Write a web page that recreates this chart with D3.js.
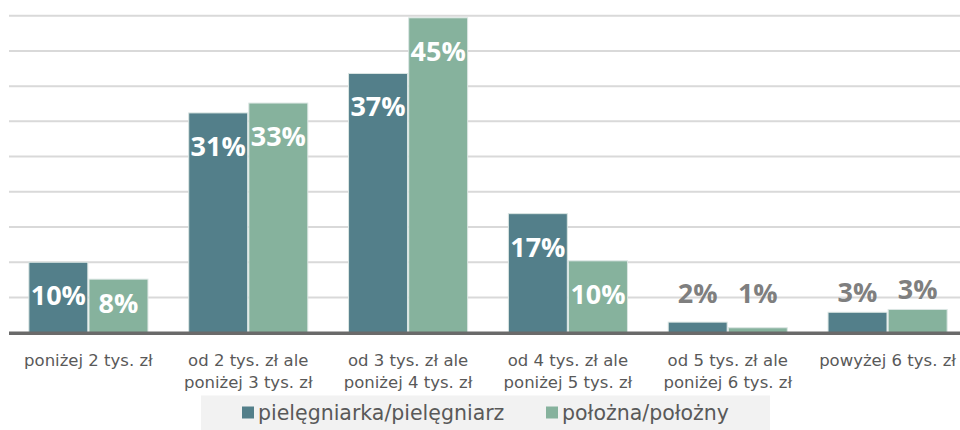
<!DOCTYPE html>
<html>
<head>
<meta charset="utf-8">
<script src="https://cdn.jsdelivr.net/npm/d3@7"></script>
<style>
  html, body { margin: 0; padding: 0; background: #fff; }
  svg { display: block; }
</style>
</head>
<body>
<svg id="chart" width="960" height="430"></svg>
<script>
const categories = [
  ["poniżej 2 tys. zł"],
  ["od 2 tys. zł ale", "poniżej 3 tys. zł"],
  ["od 3 tys. zł ale", "poniżej 4 tys. zł"],
  ["od 4 tys. zł ale", "poniżej 5 tys. zł"],
  ["od 5 tys. zł ale", "poniżej 6 tys. zł"],
  ["powyżej 6 tys. zł"]
];
const seriesNames = ["pielęgniarka/pielęgniarz", "położna/położny"];
const nurseValues = [10.0, 31.2, 36.8, 16.9, 1.5, 2.9];
const midwifeValues = [7.6, 32.6, 44.7, 10.2, 0.7, 3.3];
const nurseLabels = ["10%", "31%", "37%", "17%", "2%", "3%"];
const midwifeLabels = ["8%", "33%", "45%", "10%", "1%", "3%"];
const gridTicks = [5, 10, 15, 20, 25, 30, 35, 40, 45];

const colors = ["#537f8a", "#86b29d"];
const svg = d3.select("#chart");

const x0 = d3.scaleBand()
  .domain(d3.range(categories.length))
  .range([8.5, 967.5])
  .paddingInner(0.255)
  .paddingOuter(0.1275);
const x1 = d3.scaleBand()
  .domain([0, 1])
  .range([0, x0.bandwidth()])
  .paddingInner(0.02);
const y = d3.scaleLinear().domain([0, 45]).range([332.7, 15.7]);

// gridlines
svg.append("g").selectAll("line").data(gridTicks).join("line")
  .attr("x1", 9).attr("x2", 960)
  .attr("y1", d => y(d)).attr("y2", d => y(d))
  .attr("stroke", "#d9d9d9").attr("stroke-width", 2);

const data = categories.map((c, i) => ({
  i,
  vals: [
    { s: 0, v: nurseValues[i], lab: nurseLabels[i] },
    { s: 1, v: midwifeValues[i], lab: midwifeLabels[i] }
  ]
}));

const groups = svg.append("g").selectAll("g").data(data).join("g")
  .attr("transform", d => `translate(${x0(d.i)},0)`);

groups.selectAll("rect").data(d => d.vals).join("rect")
  .attr("x", d => x1(d.s))
  .attr("width", x1.bandwidth())
  .attr("y", d => y(d.v))
  .attr("height", d => y(0) - y(d.v))
  .attr("fill", d => colors[d.s])
  .attr("stroke", "#dbe6e3")
  .attr("stroke-width", 1);

// axis baseline
svg.append("line")
  .attr("x1", 9).attr("x2", 960)
  .attr("y1", y(0) + 0.6).attr("y2", y(0) + 0.6)
  .attr("stroke", "#6a6a6a").attr("stroke-width", 3.5);

// data labels
groups.selectAll("text.val").data(d => d.vals).join("text")
  .attr("class", "val")
  .attr("x", d => x1(d.s) + x1.bandwidth() / 2)
  .attr("y", d => d.v >= 5 ? Math.min(y(d.v) + 43, y(0) - 20) : Math.min(y(d.v) - 10, y(0) - 30))
  .attr("text-anchor", "middle")
  .attr("font-family", "'Open Sans', sans-serif")
  .attr("font-weight", "bold")
  .attr("font-size", 27)
  .attr("fill", d => d.v >= 5 ? "#ffffff" : "#7f7f7f")
  .text(d => d.lab);

// category labels
const catG = svg.append("g").selectAll("text").data(data).join("text")
  .attr("x", d => x0(d.i) + x0.bandwidth() / 2)
  .attr("y", 365.5)
  .attr("text-anchor", "middle")
  .attr("font-family", "'DejaVu Sans', sans-serif")
  .attr("font-size", 16.5)
  .attr("fill", "#595959");
catG.selectAll("tspan").data(d => categories[d.i]).join("tspan")
  .attr("x", function() { return d3.select(this.parentNode).attr("x"); })
  .attr("dy", (d, k) => k === 0 ? 0 : 22)
  .text(d => d);

// legend
const legend = svg.append("g");
legend.append("rect")
  .attr("x", 201).attr("y", 395.5).attr("width", 569).attr("height", 40)
  .attr("fill", "#f2f2f2");
const legX = [242, 546];
seriesNames.forEach((name, k) => {
  legend.append("rect")
    .attr("x", legX[k]).attr("y", 406.5).attr("width", 12).attr("height", 12)
    .attr("fill", colors[k]);
  legend.append("text")
    .attr("x", legX[k] + 16).attr("y", 419.5)
    .attr("font-family", "'DejaVu Sans', sans-serif")
    .attr("font-size", 20.5)
    .attr("fill", "#595959")
    .text(name);
});
</script>
</body>
</html>
